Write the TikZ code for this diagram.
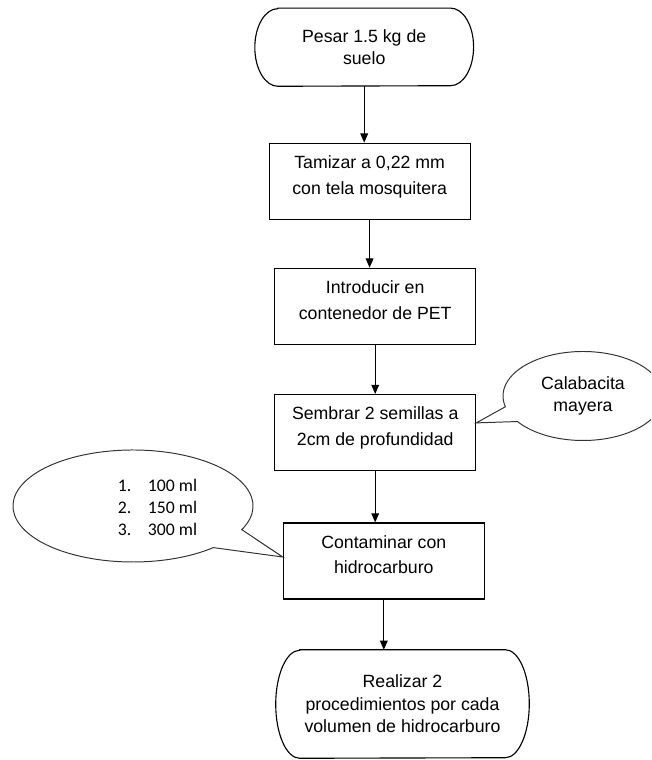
\documentclass[tikz,border=0pt]{standalone}
\usepackage{fontspec}
\setmainfont{Liberation Sans}
\newfontfamily\listfont{Carlito}
\usetikzlibrary{arrows.meta}

% extra depth under the last line, text sits a little high in the boxes
\newcommand{\bajo}{\rule[-0.32cm]{0pt}{0pt}}
% outline of a terminal node with elliptic ends: node, x radius, y radius
\newcommand{\contorno}[3]{%
  \draw[line width=0.8pt] ([xshift=#2]#1.north west) -- ([xshift=-#2]#1.north east)
    arc[start angle=90, end angle=-90, x radius=#2, y radius=#3]
    -- ([xshift=#2]#1.south west)
    arc[start angle=270, end angle=90, x radius=#2, y radius=#3] -- cycle;}

\begin{document}
\begin{tikzpicture}[
    caja/.style={draw, line width=0.8pt, minimum width=5.025cm, minimum height=1.9cm,
                 align=center, font=\fontsize{12.6pt}{18.4pt}\selectfont},
    term/.style={align=center, font=\fontsize{12.6pt}{15.9pt}\selectfont},
    flecha/.style={-{Triangle[width=5.5pt,length=6.5pt]}, line width=0.7pt},
    globo/.style={draw=black!80, line width=0.7pt},
    nota/.style={align=center, font=\fontsize{12.6pt}{15.4pt}\selectfont},
    lista/.style={align=left, font=\listfont\fontsize{12.6pt}{15.6pt}\selectfont}]

  \clip (0,0) rectangle (16.275,19);

  % pasos
  \node[term, minimum width=5.455cm, minimum height=1.94cm] (pesar) at (9.105,17.82)
    {Pesar 1.5 kg de\\suelo};
  \contorno{pesar}{0.575cm}{0.97cm}
  \node[caja] (tamizar) at (9.24,14.47) {Tamizar a 0,22 mm\\con tela mosquitera\bajo};
  \node[caja] (intro) at (9.38,11.345) {Introducir en\\contenedor de PET\bajo};
  \node[caja] (siembra) at (9.38,8.1875) {Sembrar 2 semillas a\\2cm de profundidad\bajo};
  \node[caja] (contam) at (9.595,4.975) {Contaminar con\\hidrocarburo\bajo};
  \node[term, minimum width=6.325cm, minimum height=2.7cm] (realizar) at (10.0625,1.4)
    {Realizar 2\\procedimientos por cada\\volumen de hidrocarburo};
  \contorno{realizar}{0.6cm}{1.35cm}

  \draw[flecha] (pesar) -- (pesar |- tamizar.north);
  \draw[flecha] (tamizar) -- (tamizar |- intro.north);
  \draw[flecha] (intro) -- (intro |- siembra.north);
  \draw[flecha] (siembra) -- (siembra |- contam.north);
  \draw[flecha] (contam) -- (contam |- realizar.north);

  % globos
  \node[nota] (cal) at (14.575,9.1) {Calabacita\\mayera};
  \draw[globo] (cal.center) ++(215:2cm and 1.1125cm)
    arc[start angle=215, end angle=554, x radius=2cm, y radius=1.1125cm]
    -- ([yshift=2.4mm]siembra.east) -- cycle;

  \coordinate (volc) at (3.325,6.35);
  \node[lista] (vol) at (3.9375,6.32)
    {\makebox[0.75cm][l]{1.}100 ml\\\makebox[0.75cm][l]{2.}150 ml\\\makebox[0.75cm][l]{3.}300 ml};
  \draw[globo] (volc) ++(-25:3cm and 1.4cm)
    arc[start angle=-25, end angle=312, x radius=3cm, y radius=1.4cm]
    -- ([yshift=1mm]contam.west) -- cycle;
\end{tikzpicture}
\end{document}
